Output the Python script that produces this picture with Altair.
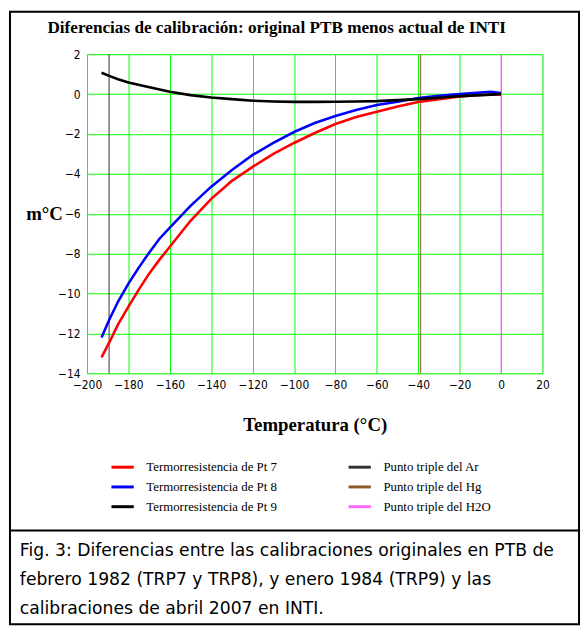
import altair as alt
import pandas as pd

# ---- data ----
T_PT7 = [-193, -189, -185, -180, -175, -170, -165, -160, -150, -140, -130, -120,
         -110, -100, -90, -80, -70, -60, -50, -40, -30, -20, -10, 0]
V_PT7 = [-13.2, -12.4, -11.55, -10.66, -9.8, -9.0, -8.3, -7.65, -6.35, -5.25, -4.35, -3.65,
         -3.0, -2.45, -1.95, -1.5, -1.15, -0.88, -0.62, -0.4, -0.25, -0.12, -0.04, 0.0]

T_PT8 = [-193, -189, -185, -180, -175, -170, -165, -160, -150, -140, -130, -120,
         -110, -100, -90, -80, -70, -60, -50, -40, -30, -20, -10, -5, 0]
V_PT8 = [-12.2, -11.25, -10.4, -9.5, -8.7, -7.95, -7.25, -6.7, -5.6, -4.64, -3.8, -3.05,
         -2.45, -1.9, -1.45, -1.1, -0.8, -0.54, -0.38, -0.2, -0.08, 0.0, 0.08, 0.12, 0.05]

T_PT9 = [-193, -189, -185, -180, -172, -160, -150, -140, -130, -120, -110, -100,
         -90, -80, -70, -60, -50, -40, -30, -20, -10, 0]
V_PT9 = [1.07, 0.9, 0.75, 0.58, 0.4, 0.12, -0.05, -0.17, -0.25, -0.33, -0.37, -0.39,
         -0.39, -0.38, -0.37, -0.35, -0.3, -0.25, -0.18, -0.1, -0.05, 0.0]

SERIES = ["Termorresistencia de Pt 7", "Termorresistencia de Pt 8", "Termorresistencia de Pt 9"]
FIXED_POINTS = ["Punto triple del Ar", "Punto triple del Hg", "Punto triple del H2O"]
FIXED_T = [-189.3442, -38.8344, 0.01]

# legend order (column-major, 2 columns)
LEGEND_ORDER = SERIES + FIXED_POINTS
LEGEND_COLORS = ["#FF0000", "#0000FF", "#000000", "#333333", "#8B5A2B", "#FF66FF"]

TITLE = "Diferencias de calibración: original PTB menos actual de INTI"
CAPTION = ["Fig. 3: Diferencias entre las calibraciones originales en PTB de",
           "febrero 1982 (TRP7 y TRP8),  y  enero 1984 (TRP9) y las",
           "calibraciones de abril 2007 en INTI."]

X_TICKS = list(range(-200, 21, 20))
Y_TICKS = list(range(-14, 3, 2))

# ---- build tables ----
rows = []
for name, ts, vs in zip(SERIES, [T_PT7, T_PT8, T_PT9], [V_PT7, V_PT8, V_PT9]):
    for i, (t, v) in enumerate(zip(ts, vs)):
        rows.append({"serie": name, "T": t, "v": v, "i": i})
curves = pd.DataFrame(rows)
fixed = pd.DataFrame({"serie": FIXED_POINTS, "T": FIXED_T})

color = alt.Color(
    "serie:N",
    scale=alt.Scale(domain=LEGEND_ORDER, range=LEGEND_COLORS),
    legend=alt.Legend(
        title=None, orient="none", legendX=23, legendY=405, columns=2,
        columnPadding=65, rowPadding=0, symbolType="stroke", symbolSize=510,
        symbolStrokeWidth=3, labelFont="Liberation Serif", labelFontSize=13,
        labelColor="#000000", labelOffset=11, labelLimit=300, padding=0,
    ),
)

xscale = alt.Scale(domain=[-200, 20], nice=False, zero=False)
yscale = alt.Scale(domain=[-14, 2], nice=False, zero=False)

LABEL_FONT = "Liberation Sans Narrow, DejaVu Sans Condensed, sans-serif"

xaxis = alt.Axis(
    values=X_TICKS, title="Temperatura (°C)", grid=True, gridColor="#00FF00",
    gridOpacity=1, gridWidth=1, ticks=False, domain=False, labelFlush=False,
    labelOverlap=False, labelPadding=6, labelFont=LABEL_FONT,
    labelFontSize=12, labelColor="#000000", titleFont="Liberation Serif", titleFontSize=19,
    titleFontWeight="bold", titleColor="#000000", titleY=52, titleBaseline="middle",
)
yaxis = alt.Axis(
    values=Y_TICKS, title="m°C", grid=True, gridColor="#00FF00", gridOpacity=1,
    gridWidth=1, ticks=False, domain=False, labelFlush=False, labelOverlap=False,
    labelPadding=7, labelFont=LABEL_FONT,
    labelFontSize=12, labelColor="#000000", titleFont="Liberation Serif", titleFontSize=19,
    titleFontWeight="bold", titleColor="#000000", titleAngle=0, titleAlign="right",
    titleBaseline="middle", titleX=-25, titleY=161,
)

lines = alt.Chart(curves).mark_line(strokeWidth=2.6).encode(
    x=alt.X("T:Q", scale=xscale, axis=xaxis),
    y=alt.Y("v:Q", scale=yscale, axis=yaxis),
    color=color,
    order="i:Q",
)

rules = alt.Chart(fixed).mark_rule(strokeWidth=1).encode(
    x=alt.X("T:Q", scale=xscale),
    color=color,
)

one = alt.Data(values=[{"a": 1}])

title = alt.Chart(one).mark_text(
    align="center", baseline="alphabetic", font="Liberation Serif", fontSize=17.4,
    fontWeight="bold", color="#000000",
).encode(x=alt.value(192), y=alt.value(-21), text=alt.value(TITLE))

frame = alt.Chart(one).mark_rect(fill=None, stroke="#000000", strokeWidth=2).encode(
    x=alt.value(-78), x2=alt.value(498), y=alt.value(-43), y2=alt.value(577)
)
divider = alt.Chart(one).mark_rule(stroke="#000000", strokeWidth=2).encode(
    x=alt.value(-78), x2=alt.value(498), y=alt.value(482)
)
caption = alt.Chart(one).mark_text(
    align="left", baseline="alphabetic", font="DejaVu Sans", fontSize=17.4,
    lineHeight=29.5, color="#000000",
).encode(x=alt.value(-68), y=alt.value(508), text=alt.value(CAPTION))

chart = alt.layer(rules, lines, frame, divider, caption, title).properties(
    width=461,
    height=323,
    padding={"left": 80, "top": 43, "right": 38, "bottom": 255},
    autosize=alt.AutoSizeParams(type="none"),
).configure_view(stroke="#444444", strokeWidth=1).configure(background="white")

chart.save("out.html", embed_options={"renderer": "svg", "actions": False})
